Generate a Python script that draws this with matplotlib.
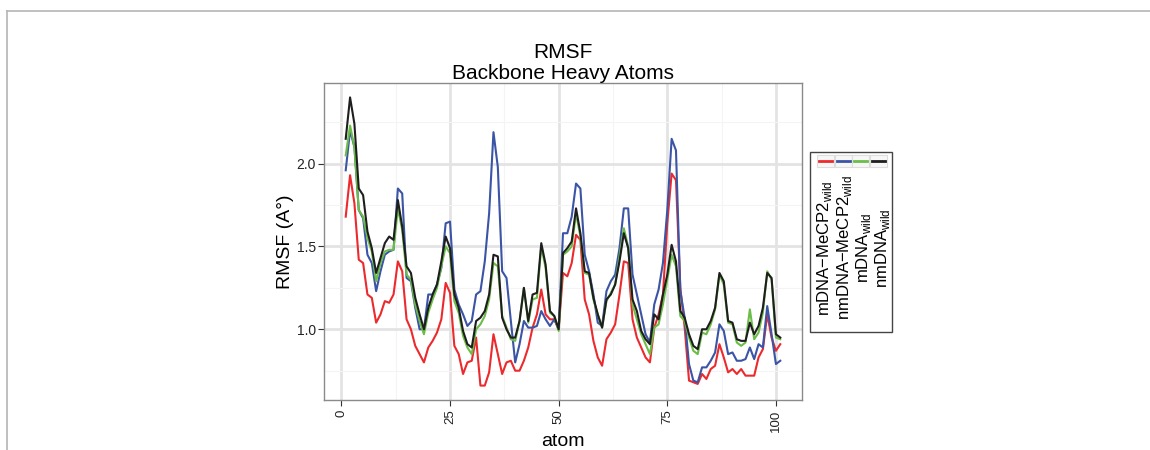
import matplotlib
matplotlib.use("Agg")
import matplotlib.pyplot as plt
import numpy as np
from matplotlib.patches import Rectangle
from matplotlib.lines import Line2D

plt.rcParams['font.family'] = ['Liberation Sans', 'DejaVu Sans']
plt.rcParams['mathtext.fontset'] = 'custom'
plt.rcParams['mathtext.rm'] = 'Liberation Sans'

# RMSF per atom
atom = np.arange(1, 102)

mdna_mecp2 = [1.68, 1.93, 1.76, 1.42, 1.40, 1.21, 1.19, 1.04, 1.09, 1.17,
              1.16, 1.21, 1.41, 1.35, 1.06, 1.00, 0.90, 0.85, 0.80, 0.89,
              0.93, 0.98, 1.06, 1.28, 1.22, 0.90, 0.85, 0.73, 0.80, 0.81,
              0.95, 0.66, 0.66, 0.74, 0.97, 0.85, 0.73, 0.80, 0.81, 0.75,
              0.75, 0.81, 0.89, 1.01, 1.09, 1.24, 1.09, 1.06, 1.06, 1.00,
              1.34, 1.32, 1.40, 1.57, 1.54, 1.18, 1.09, 0.93, 0.83, 0.78,
              0.94, 0.98, 1.03, 1.21, 1.41, 1.40, 1.06, 0.95, 0.89, 0.83,
              0.80, 1.01, 1.09, 1.21, 1.64, 1.94, 1.90, 1.25, 1.01, 0.69,
              0.68, 0.67, 0.73, 0.70, 0.76, 0.78, 0.91, 0.83, 0.74, 0.76,
              0.73, 0.76, 0.72, 0.72, 0.72, 0.83, 0.88, 1.09, 0.95, 0.87,
              0.91]

nmdna_mecp2 = [1.96, 2.20, 2.10, 1.72, 1.67, 1.45, 1.40, 1.23, 1.35, 1.45,
               1.47, 1.48, 1.85, 1.82, 1.31, 1.29, 1.13, 1.00, 1.00, 1.21,
               1.21, 1.27, 1.37, 1.64, 1.65, 1.24, 1.15, 1.09, 1.02, 1.05,
               1.21, 1.23, 1.41, 1.70, 2.19, 1.98, 1.35, 1.31, 1.05, 0.80,
               0.91, 1.05, 1.01, 1.01, 1.02, 1.11, 1.06, 1.02, 1.06, 1.00,
               1.58, 1.58, 1.68, 1.88, 1.85, 1.45, 1.35, 1.21, 1.04, 1.02,
               1.23, 1.29, 1.33, 1.49, 1.73, 1.73, 1.33, 1.21, 1.09, 0.97,
               0.92, 1.15, 1.24, 1.40, 1.72, 2.15, 2.08, 1.23, 1.07, 0.79,
               0.69, 0.68, 0.77, 0.77, 0.81, 0.86, 1.03, 0.99, 0.85, 0.86,
               0.81, 0.81, 0.82, 0.89, 0.82, 0.91, 0.89, 1.14, 0.97, 0.79,
               0.81]

mdna = [2.05, 2.23, 2.10, 1.72, 1.68, 1.55, 1.47, 1.29, 1.40, 1.47,
        1.48, 1.48, 1.73, 1.60, 1.33, 1.30, 1.15, 1.05, 0.97, 1.10,
        1.18, 1.25, 1.38, 1.50, 1.46, 1.17, 1.10, 0.96, 0.89, 0.85,
        1.00, 1.03, 1.08, 1.18, 1.40, 1.38, 1.08, 1.01, 0.94, 0.93,
        1.05, 1.25, 1.04, 1.18, 1.19, 1.50, 1.37, 1.10, 1.08, 0.99,
        1.45, 1.47, 1.50, 1.70, 1.56, 1.34, 1.33, 1.18, 1.09, 1.01,
        1.17, 1.22, 1.27, 1.44, 1.61, 1.50, 1.15, 1.06, 0.97, 0.91,
        0.85, 1.01, 1.03, 1.15, 1.30, 1.45, 1.38, 1.08, 1.05, 0.95,
        0.87, 0.85, 0.98, 0.97, 1.03, 1.12, 1.33, 1.27, 1.04, 1.03,
        0.92, 0.90, 0.92, 1.12, 0.94, 0.98, 1.10, 1.35, 1.30, 0.95,
        0.94]

nmdna = [2.15, 2.40, 2.24, 1.85, 1.81, 1.59, 1.49, 1.34, 1.43, 1.52,
         1.56, 1.54, 1.78, 1.62, 1.38, 1.34, 1.19, 1.09, 1.00, 1.13,
         1.21, 1.27, 1.41, 1.56, 1.49, 1.21, 1.13, 0.99, 0.91, 0.89,
         1.05, 1.07, 1.11, 1.21, 1.45, 1.44, 1.07, 1.00, 0.95, 0.95,
         1.05, 1.25, 1.05, 1.21, 1.22, 1.52, 1.39, 1.11, 1.08, 1.00,
         1.46, 1.49, 1.53, 1.73, 1.58, 1.35, 1.34, 1.19, 1.09, 1.01,
         1.18, 1.21, 1.27, 1.41, 1.58, 1.49, 1.18, 1.11, 0.99, 0.94,
         0.91, 1.09, 1.06, 1.21, 1.33, 1.51, 1.41, 1.11, 1.07, 0.97,
         0.90, 0.88, 1.00, 1.00, 1.05, 1.13, 1.34, 1.29, 1.05, 1.04,
         0.94, 0.93, 0.93, 1.04, 0.97, 1.02, 1.13, 1.34, 1.31, 0.97,
         0.95]

series = [mdna_mecp2, nmdna_mecp2, mdna, nmdna]
labels = ['mDNA−MeCP2$_\\mathregular{wild}$', 'nmDNA−MeCP2$_\\mathregular{wild}$',
          'mDNA$_\\mathregular{wild}$', 'nmDNA$_\\mathregular{wild}$']
colors = ['#ec2a2d', '#3b54a5', '#6bbd47', '#1e1e1e']

W, H = 1150, 450
fig = plt.figure(figsize=(W / 100, H / 100), dpi=100)

def fx(x):
    return x / W

def fy(y):
    return 1 - y / H

# outer frame lines
fig.add_artist(Line2D([fx(7), 1], [fy(10.5), fy(10.5)], color='#b5b5b5', lw=1.2))
fig.add_artist(Line2D([fx(7), fx(7)], [fy(10.5), 0], color='#b5b5b5', lw=1.2))

ax = fig.add_axes([fx(324), fy(400), (802 - 324) / W, (400 - 83) / H])

for s, c in zip(series, colors):
    ax.plot(atom, s, color=c, lw=1.5, zorder=3)

# ggplot-like expansion
lo = min(min(s) for s in series)
hi = max(max(s) for s in series)
pad = 0.05 * (hi - lo)
ax.set_ylim(lo - pad, hi + pad)
xpad = 0.05 * (atom.max() - atom.min())
ax.set_xlim(atom.min() - xpad, atom.max() + xpad)

ax.set_xticks([0, 25, 50, 75, 100])
ax.set_xticks([12.5, 37.5, 62.5, 87.5], minor=True)
ax.set_yticks([1.0, 1.5, 2.0])
ax.set_yticks([0.75, 1.25, 1.75, 2.25], minor=True)
ax.grid(which='major', color='#e3e3e3', lw=2.0, zorder=0)
ax.grid(which='minor', color='#f4f4f4', lw=0.8, zorder=0)
ax.set_axisbelow(True)
ax.tick_params(which='minor', length=0)
ax.tick_params(which='major', length=4, width=0.8, color='#333333', labelsize=10,
               pad=2, labelcolor='#222222')
ax.tick_params(axis='x', labelrotation=90, labelsize=9.5, pad=3)
for sp in ax.spines.values():
    sp.set_color('#8a8a8a')
    sp.set_linewidth(1.0)

ax.set_xlabel('atom', fontsize=14, labelpad=1)
ax.set_ylabel('RMSF (A°)', fontsize=14, labelpad=2)
ax.set_title('RMSF\nBackbone Heavy Atoms', fontsize=15, linespacing=1.1, pad=2)

# legend drawn by hand: keys on top, labels rotated below
fig.add_artist(Rectangle((fx(810), fy(332)), (892 - 810) / W, (332 - 152) / H,
                         transform=fig.transFigure, fill=False, ec='#444444', lw=1.0))
key_x = [817, 834.5, 852, 869.5]
key_w = 17
text_x = [824, 844, 864, 883]
for kx, tx, c, lab in zip(key_x, text_x, colors, labels):
    fig.add_artist(Rectangle((fx(kx), fy(167)), key_w / W, 12 / H,
                             transform=fig.transFigure, fill=True, fc='#f7f7f7',
                             ec='#dddddd', lw=0.8))
    fig.add_artist(Line2D([fx(kx + 2), fx(kx + key_w - 2)], [fy(161), fy(161)],
                          color=c, lw=2.0))
    fig.text(fx(tx), fy(248), lab, rotation=90, ha='center', va='center',
             fontsize=12)

fig.savefig('out.png', dpi=100)
